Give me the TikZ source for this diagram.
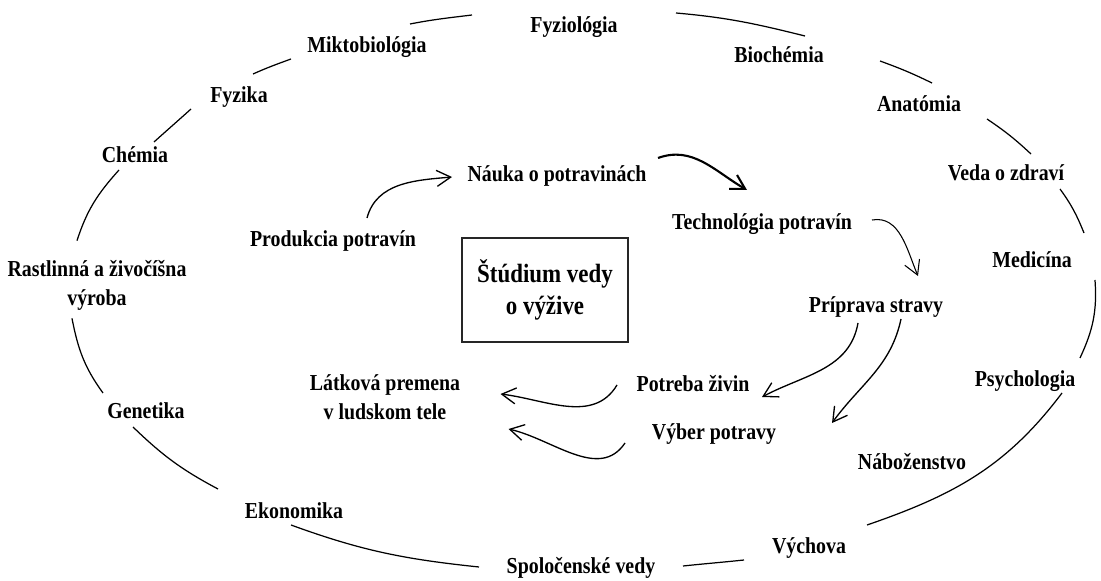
\documentclass[tikz,border=0pt]{standalone}
\usepackage{fontspec}
\newfontfamily\lblfam{Liberation Serif}[FakeStretch=0.87]
\usetikzlibrary{arrows.meta}
\tikzstyle{lbl} = [font=\lblfam\bfseries\fontsize{13}{16.5}\selectfont, inner sep=0pt, anchor=base]
\tikzstyle{lbltwo} = [font=\lblfam\bfseries\fontsize{13}{16.5}\selectfont, inner sep=0pt, align=center]
\tikzstyle{core} = [rectangle, draw=black!85, line width=1.1pt, minimum width=3.32cm,
    minimum height=2.08cm, align=center, font=\lblfam\bfseries\fontsize{15}{18.2}\selectfont]
\tikzstyle{rim} = [draw, line width=0.7pt]
\tikzstyle{line} = [draw, line width=0.75pt, -{Straight Barb[length=2.8mm,width=3.2mm]}]
\tikzstyle{thinline} = [line, line width=0.6pt]
\tikzstyle{boldline} = [line, line width=1.2pt]

\begin{document}
\begin{tikzpicture}
 \useasboundingbox (0,0) rectangle (22.02,11.6);
 \node [core] (study) at (10.9,5.8) {Štúdium vedy\\o výžive};
 \node [lbl] (fyzio) at (11.48,10.94) {Fyziológia};
 \node [lbl] (mikto) at (7.34,10.54) {Miktobiológia};
 \node [lbl] (fyzika) at (4.78,9.54) {Fyzika};
 \node [lbl] (chemia) at (2.70,8.34) {Chémia};
 \node [lbltwo] (rastlinna) at (1.94,5.90) {Rastlinná a živočíšna\\výroba};
 \node [lbl] (genetika) at (2.92,3.22) {Genetika};
 \node [lbl] (ekonomika) at (5.88,1.24) {Ekonomika};
 \node [lbl] (spol) at (11.62,0.14) {Spoločenské vedy};
 \node [lbl] (vychova) at (16.18,0.54) {Výchova};
 \node [lbl] (nabozenstvo) at (18.24,2.2) {Náboženstvo};
 \node [lbl] (psycho) at (20.5,3.86) {Psychologia};
 \node [lbl] (medicina) at (20.64,6.24) {Medicína};
 \node [lbl] (veda) at (20.12,7.98) {Veda o zdraví};
 \node [lbl] (anatomia) at (18.38,9.36) {Anatómia};
 \node [lbl] (biochemia) at (15.58,10.34) {Biochémia};
 \node [lbl] (nauka) at (11.14,7.96) {Náuka o potravinách};
 \node [lbl] (produkcia) at (6.66,6.66) {Produkcia potravín};
 \node [lbl] (techno) at (15.24,7.0) {Technológia potravín};
 \node [lbl] (priprava) at (17.52,5.34) {Príprava stravy};
 \node [lbl] (potreba) at (13.86,3.76) {Potreba živin};
 \node [lbl] (vyber) at (14.28,2.8) {Výber potravy};
 \node [lbltwo] (latkova) at (7.7,3.66) {Látková premena\\v ludskom tele};
 \path [rim] ([shift={(-2.04,0.36)}]fyzio.base) to[out=187,in=11] ([shift={(0.86,0.58)}]mikto.base);
 \path [rim] ([shift={(-1.52,-0.12)}]mikto.base) to[out=200,in=24] ([shift={(0.28,0.58)}]fyzika.base);
 \path [rim] ([shift={(-0.96,-0.12)}]fyzika.base) to[out=222,in=42] ([shift={(0.38,0.42)}]chemia.base);
 \path [rim] ([shift={(-0.32,-0.14)}]chemia.base) to[out=228,in=72] ([shift={(-0.4,0.38)}]rastlinna.north);
 \path [rim] ([shift={(-0.5,-0.16)}]rastlinna.south) to[out=281,in=126] ([shift={(-0.86,0.52)}]genetika.base);
 \path [rim] ([shift={(-0.26,-0.16)}]genetika.base) to[out=-44,in=152] ([shift={(-1.52,0.58)}]ekonomika.base);
 \path [rim] ([shift={(-0.06,-0.14)}]ekonomika.base) to[out=-20,in=174] ([shift={(-2.04,0.12)}]spol.base);
 \path [rim] ([shift={(2.04,0.14)}]spol.base) to[out=6,in=186] ([shift={(-1.3,-0.14)}]vychova.base);
 \path [rim] ([shift={(1.16,0.56)}]vychova.base) to[out=19,in=233] ([shift={(0.74,-0.12)}]psycho.base);
 \path [rim] ([shift={(1.1,0.58)}]psycho.base) to[out=65,in=274] ([shift={(1.26,-0.24)}]medicina.base);
 \path [rim] ([shift={(1.04,0.7)}]medicina.base) to[out=112,in=306] ([shift={(1.08,-0.16)}]veda.base);
 \path [rim] ([shift={(0.5,0.54)}]veda.base) to[out=137,in=326] ([shift={(1.36,-0.14)}]anatomia.base);
 \path [rim] ([shift={(0.26,0.58)}]anatomia.base) to[out=154,in=340] ([shift={(2.02,0.04)}]biochemia.base);
 \path [rim] ([shift={(0.52,0.54)}]biochemia.base) to[out=166,in=355] ([shift={(2.04,0.4)}]fyzio.base);
 \path [line] ([shift={(0.68,0.58)}]produkcia.base) to[out=75,in=185] ([shift={(-2.1,0.1)}]nauka.base);
 \path [boldline] ([shift={(2.02,0.48)}]nauka.base) to[out=20,in=150] ([shift={(-0.3,0.8)}]techno.base);
 \path [thinline] ([shift={(2.2,0.2)}]techno.base) to[out=10,in=113] ([shift={(0.84,0.74)}]priprava.base);
 \path [line] ([shift={(-0.36,-0.2)}]priprava.base) to[out=260,in=28] ([shift={(1.38,-0.1)}]potreba.base);
 \path [line] ([shift={(0.5,-0.12)}]priprava.base) to[out=258,in=54] ([shift={(2.36,0.34)}]vyber.base);
 \path [line] ([shift={(-1.52,0.14)}]potreba.base) to[out=239,in=353] ([shift={(0.8,0.06)}]latkova.east);
 \path [line] ([shift={(-1.78,-0.06)}]vyber.base) to[out=236,in=347] ([shift={(0.96,-0.64)}]latkova.east);
\end{tikzpicture}
\end{document}
